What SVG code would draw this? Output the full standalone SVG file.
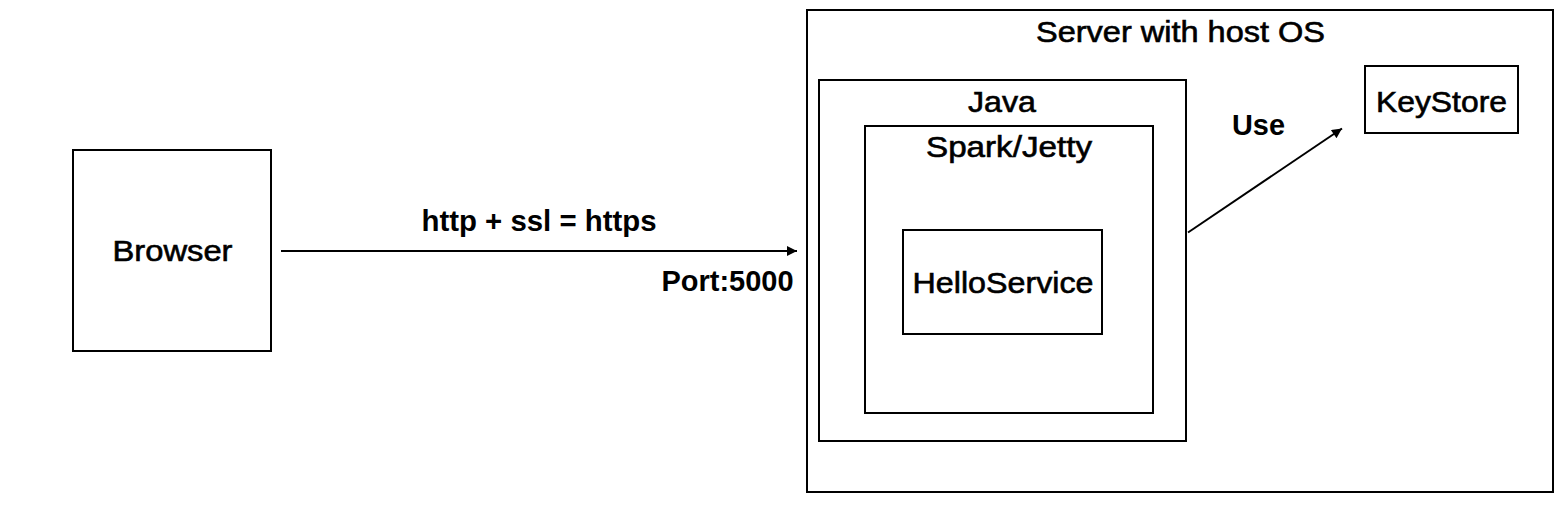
<svg xmlns="http://www.w3.org/2000/svg" width="1563" height="507" viewBox="0 0 1563 507">
<style>
.box{fill:#fff;stroke:#000;stroke-width:2}
.inner{fill:none;stroke:#000;stroke-width:2}
.t{font-family:"Liberation Sans",Arial,sans-serif;font-size:29px;fill:#000;text-anchor:middle;stroke:#000;stroke-width:0.6}
.b{font-weight:bold;stroke:none}
.c{stroke:#000;stroke-width:2;fill:none}
</style>
<defs>
<marker id="ah" viewBox="0 0 10 10" refX="10" refY="5" markerWidth="6" markerHeight="5" markerUnits="strokeWidth" orient="auto">
<path d="M0,0 L10,5 L0,10 z" fill="#000"/>
</marker>
</defs>
<rect width="1563" height="507" fill="#fff"/>
<g id="browser">
<rect class="box" x="73" y="150" width="198" height="201"/>
<text class="t" x="172.5" y="261" textLength="120" lengthAdjust="spacingAndGlyphs">Browser</text>
</g>
<g id="server">
<rect class="box" x="807" y="10" width="746" height="482"/>
<text class="t" x="1180.5" y="42" textLength="289" lengthAdjust="spacingAndGlyphs">Server with host OS</text>
</g>
<g id="java">
<rect class="inner" x="819" y="80" width="367" height="361"/>
<text class="t" x="1002" y="112" textLength="68" lengthAdjust="spacingAndGlyphs">Java</text>
</g>
<g id="spark">
<rect class="inner" x="865" y="126" width="288" height="287"/>
<text class="t" x="1009" y="157" textLength="166" lengthAdjust="spacingAndGlyphs">Spark/Jetty</text>
</g>
<g id="hello">
<rect class="inner" x="903" y="230" width="199" height="104"/>
<text class="t" x="1003" y="293" textLength="181" lengthAdjust="spacingAndGlyphs">HelloService</text>
</g>
<g id="keystore">
<rect class="inner" x="1365" y="66" width="153" height="67"/>
<text class="t" x="1441.5" y="112" textLength="131" lengthAdjust="spacingAndGlyphs">KeyStore</text>
</g>
<g id="connectors">
<line class="c" x1="281" y1="251" x2="797" y2="251" marker-end="url(#ah)"/>
<line class="c" x1="1188" y1="232.5" x2="1342" y2="128.5" marker-end="url(#ah)"/>
<text class="t b" x="539" y="231" textLength="235" lengthAdjust="spacingAndGlyphs">http + ssl = https</text>
<text class="t b" x="727.5" y="291" textLength="132" lengthAdjust="spacingAndGlyphs">Port:5000</text>
<text class="t b" x="1258.5" y="135" textLength="53" lengthAdjust="spacingAndGlyphs">Use</text>
</g>
</svg>
